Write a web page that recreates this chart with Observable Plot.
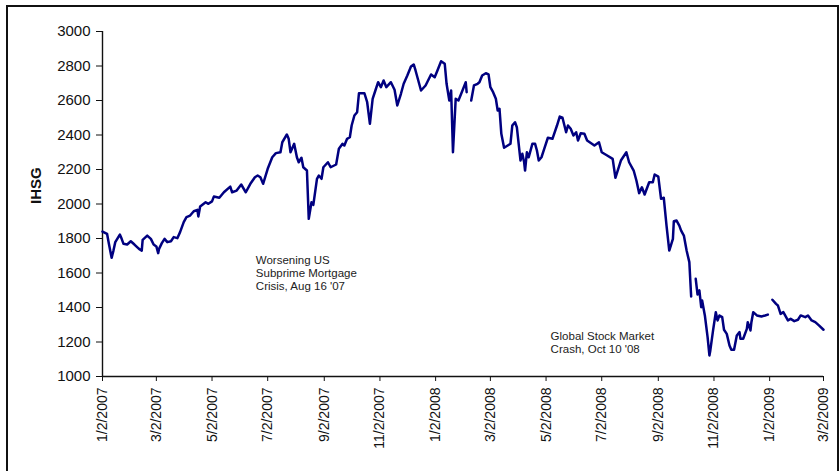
<!DOCTYPE html>
<html>
<head>
<meta charset="utf-8">
<script src="https://cdn.jsdelivr.net/npm/d3@7"></script>
<script src="https://cdn.jsdelivr.net/npm/@observablehq/plot@0.6"></script>
<style>
  html, body { margin: 0; padding: 0; background: #fff; overflow: hidden; }
  #wrap { position: relative; width: 839px; height: 471px; }
  #frame { position: absolute; left: 6px; top: 5px; width: 833px; height: 480px; box-sizing: border-box; border: 2px solid #111; pointer-events: none; }
  #chart { position: absolute; left: 0; top: 0; }
</style>
</head>
<body>
<div id="wrap"><div id="chart"></div><div id="frame"></div></div>
<script>
const dates = [
"2007-01-02","2007-01-07","2007-01-09","2007-01-12","2007-01-14","2007-01-16","2007-01-21","2007-01-23","2007-01-25","2007-01-29",
"2007-02-02","2007-02-06","2007-02-11","2007-02-14","2007-02-15","2007-02-20","2007-02-24","2007-02-27",
"2007-03-02","2007-03-04","2007-03-05","2007-03-08","2007-03-11","2007-03-14","2007-03-18","2007-03-21","2007-03-25","2007-03-28",
"2007-04-01","2007-04-04","2007-04-08","2007-04-12","2007-04-16","2007-04-17","2007-04-19","2007-04-25","2007-04-28",
"2007-05-02","2007-05-04","2007-05-10","2007-05-15","2007-05-22","2007-05-24","2007-05-29",
"2007-06-03","2007-06-08","2007-06-13","2007-06-18","2007-06-21","2007-06-24","2007-06-27",
"2007-07-02","2007-07-07","2007-07-11","2007-07-16","2007-07-18","2007-07-23","2007-07-25","2007-07-27","2007-07-31",
"2007-08-03","2007-08-05","2007-08-08","2007-08-10","2007-08-14","2007-08-16","2007-08-19","2007-08-21","2007-08-25","2007-08-27","2007-08-30",
"2007-09-01","2007-09-06","2007-09-09","2007-09-15","2007-09-18","2007-09-22","2007-09-24","2007-09-27","2007-09-30",
"2007-10-02","2007-10-05","2007-10-08","2007-10-10","2007-10-16","2007-10-19","2007-10-22","2007-10-25","2007-10-28","2007-10-31",
"2007-11-03","2007-11-06","2007-11-09","2007-11-14","2007-11-18","2007-11-21","2007-11-25","2007-11-28",
"2007-12-02","2007-12-06","2007-12-09","2007-12-11","2007-12-17","2007-12-22","2007-12-28",
"2008-01-01","2008-01-04","2008-01-08","2008-01-12","2008-01-14","2008-01-17","2008-01-19","2008-01-21","2008-01-24","2008-01-27","2008-01-30",
"2008-02-04","2008-02-05","2008-02-07","2008-02-10","2008-02-13","2008-02-17","2008-02-19","2008-02-22","2008-02-26","2008-02-29",
"2008-03-02","2008-03-05","2008-03-08","2008-03-10","2008-03-12","2008-03-14","2008-03-17","2008-03-21","2008-03-24","2008-03-26","2008-03-29","2008-03-31",
"2008-04-02","2008-04-04","2008-04-06","2008-04-08","2008-04-09","2008-04-11","2008-04-13","2008-04-17","2008-04-20","2008-04-22","2008-04-24","2008-04-27","2008-04-30",
"2008-05-04","2008-05-09","2008-05-14","2008-05-17","2008-05-20","2008-05-24","2008-05-26","2008-05-29",
"2008-06-01","2008-06-04","2008-06-06","2008-06-09","2008-06-13","2008-06-16","2008-06-24","2008-06-29",
"2008-07-02","2008-07-08","2008-07-14","2008-07-17","2008-07-23","2008-07-29",
"2008-08-01","2008-08-06","2008-08-09","2008-08-12","2008-08-15","2008-08-18","2008-08-23","2008-08-27","2008-08-29",
"2008-09-02","2008-09-05","2008-09-08","2008-09-11","2008-09-14","2008-09-18","2008-09-19","2008-09-22","2008-09-25","2008-09-27","2008-09-30",
"2008-10-03","2008-10-06","2008-10-08","2008-10-10","2008-10-13","2008-10-15","2008-10-17","2008-10-19","2008-10-20","2008-10-23","2008-10-26","2008-10-28","2008-10-29",
"2008-11-01","2008-11-04","2008-11-06","2008-11-08","2008-11-11","2008-11-13","2008-11-16","2008-11-19","2008-11-21","2008-11-24","2008-11-27","2008-11-30",
"2008-12-01","2008-12-04","2008-12-08","2008-12-09","2008-12-12","2008-12-13","2008-12-15","2008-12-19","2008-12-24","2008-12-28","2008-12-31",
"2009-01-02","2009-01-05","2009-01-09","2009-01-11","2009-01-14","2009-01-17","2009-01-22","2009-01-25","2009-01-29",
"2009-02-02","2009-02-05","2009-02-10","2009-02-13","2009-02-17","2009-02-21","2009-02-25","2009-03-02"
];
const ihsg = [
1840,1827,1769,1688,1730,1779,1823,1798,1769,1765,
1784,1765,1740,1730,1792,1817,1798,1765,
1754,1715,1740,1773,1798,1779,1784,1808,1802,1837,
1895,1924,1933,1958,1966,1928,1986,2010,2001,
2015,2043,2036,2068,2101,2068,2078,
2113,2068,2117,2155,2165,2155,2117,
2204,2271,2295,2300,2358,2403,2378,2300,2349,
2271,2242,2268,2213,2194,1914,2010,1995,2146,2165,2146,
2213,2242,2213,2229,2320,2349,2339,2378,2387,
2455,2513,2532,2642,2642,2590,2465,2610,2658,2706,
2677,2716,2677,2706,2662,2571,2639,2697,
2745,2797,2809,2774,2658,2687,2751,
2735,2774,2828,2813,2697,2600,2658,2300,2610,2600,2639,
2706,2648,null,2600,2687,2697,2706,2745,2758,2751,
2677,2648,2610,2542,2552,2407,2326,2339,2349,2455,2474,2445,
2349,2252,2291,2242,2194,2300,2271,2349,2349,2310,2252,2271,2320,
2384,2378,2455,2507,2500,2416,2455,2436,
2397,2416,2368,2410,2407,2368,2339,2358,
2300,2281,2262,2152,2252,2300,
2242,2194,2136,2063,2097,2055,2126,2126,2171,
2159,2030,2036,1875,1730,1798,1900,1904,1875,1846,1817,
1730,1663,1464,null,1566,1475,1499,1402,1441,1354,1228,1122,1151,
1267,1373,1325,1354,1344,1271,1247,1180,1155,1155,1238,1257,
1219,1219,1276,1315,1267,1315,1373,1354,1348,1354,1359,
null,1445,1421,1412,1363,1373,1325,1334,1321,
1329,1354,1344,1354,1325,1315,1296,1271
];
const xTickLabels = ["1/2/2007","3/2/2007","5/2/2007","7/2/2007","9/2/2007","11/2/2007","1/2/2008","3/2/2008","5/2/2008","7/2/2008","9/2/2008","11/2/2008","1/2/2009","3/2/2009"];
const yTicks = [1000,1200,1400,1600,1800,2000,2200,2400,2600,2800,3000];
const yTitle = "IHSG";
const noteTexts = ["Worsening US\nSubprime Mortgage\nCrisis, Aug 16 '07", "Global Stock Market\nCrash, Oct 10 '08"];
const noteDates = ["2007-06-19", "2008-05-07"];
const noteValues = [1710, 1269];

const parseMDY = s => { const [m, d, y] = s.split("/").map(Number); return new Date(Date.UTC(y, m - 1, d)); };
const data = dates.map((d, i) => ({date: new Date(d + "T00:00:00Z"), value: ihsg[i]}));
const xTicks = xTickLabels.map(parseMDY);
const fmt = d3.utcFormat("%-m/%-d/%Y");
const notes = noteTexts.map((t, i) => ({text: t, date: new Date(noteDates[i] + "T00:00:00Z"), value: noteValues[i]}));

const chart = Plot.plot({
  width: 839, height: 471,
  marginLeft: 102, marginRight: 16, marginTop: 31, marginBottom: 95,
  style: {fontFamily: "'Liberation Sans', Arial, sans-serif", background: "transparent", color: "#111"},
  x: {type: "utc", domain: [xTicks[0], xTicks[xTicks.length - 1]]},
  y: {domain: [1000, 3000]},
  marks: [
    Plot.axisY({ticks: yTicks, tickSize: 6, tickPadding: 6, fontSize: 15, label: null, tickFormat: d => String(d), stroke: "#111"}),
    Plot.axisX({ticks: xTicks, tickSize: 5, tickPadding: 6, tickRotate: -90, fontSize: 14, label: null, tickFormat: fmt, stroke: "#111"}),
    Plot.ruleX([xTicks[0]], {stroke: "#111", strokeWidth: 1.4}),
    Plot.ruleY([1000], {stroke: "#111", strokeWidth: 1.4}),
    Plot.lineY(data, {x: "date", y: "value", stroke: "#000080", strokeWidth: 2.5, curve: "linear"}),
    Plot.text(notes, {x: "date", y: "value", text: "text", textAnchor: "start", lineAnchor: "top", lineHeight: 1.17, fontSize: 11.5, fill: "#222"}),
    Plot.text([yTitle], {frameAnchor: "left", dx: -66, rotate: -90, fontWeight: "bold", fontSize: 15, fill: "#111"})
  ]
});
document.getElementById("chart").appendChild(chart);
</script>
</body>
</html>
